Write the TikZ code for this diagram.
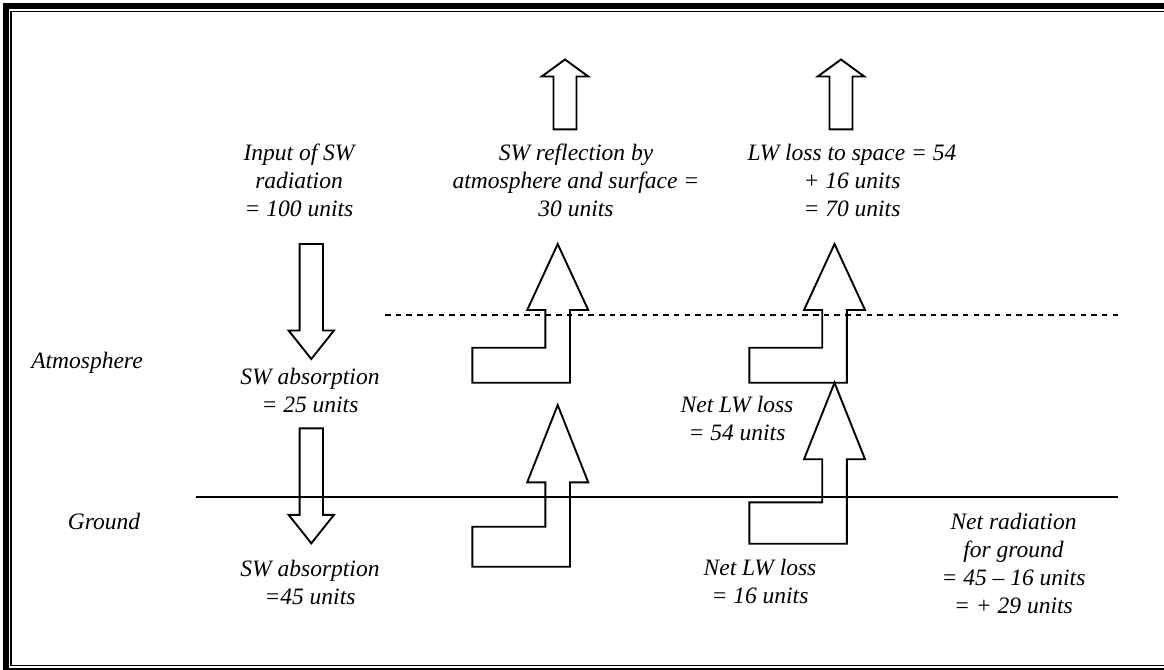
\documentclass[tikz,border=0pt]{standalone}
\usepackage{fontspec}
\setmainfont{Liberation Serif}

\tikzset{
  blockarrow/.style={draw=black, line width=1.9pt, line join=miter},
  lbl/.style={align=center, anchor=base, inner sep=0pt,
    font=\fontsize{23.5}{28}\selectfont\itshape},
}

\begin{document}
\begin{tikzpicture}[x=1pt,y=-1pt]

  % page size, frame runs off the right and bottom edges
  \useasboundingbox (0,0) rectangle (1164,669);
  \clip (0,0) rectangle (1164,669);

  % double frame
  \draw [line width=6pt] (6,6) rectangle (1180,670.6);
  \draw [line width=1.3pt] (11,11.5) rectangle (1172,665.5);

  % down arrows: SW input and SW to ground
  \foreach \cx/\ytop in {311.3/244, 311.3/428.3} {
    \draw [blockarrow] (\cx-11.7,\ytop) -- (\cx+11.7,\ytop) -- (\cx+11.7,\ytop+86.5)
      -- (\cx+22.7,\ytop+86.5) -- (\cx,\ytop+115) -- (\cx-22.7,\ytop+86.5)
      -- (\cx-11.7,\ytop+86.5) -- cycle;
  }

  % small up arrows to space
  \foreach \cx in {565, 841} {
    \draw [blockarrow] (\cx-11.5,129.3) -- (\cx+11.5,129.3) -- (\cx+11.5,76.5)
      -- (\cx+23.3,76.5) -- (\cx,59.5) -- (\cx-23.3,76.5) -- (\cx-11.5,76.5) -- cycle;
  }

  % bent up arrows: centre x / tip / head base / inner corner / bottom / left end
  \foreach \cx/\tip/\hb/\inn/\bot/\lx in {557.7/244/310/347.7/382.7/472.3,
      557.7/405/482.3/526.7/566.7/472.3,
      834.5/244/310/347.7/382.7/749.3,
      834.5/382.7/459.2/502.3/543.7/749.3} {
    \draw [blockarrow] (\cx,\tip) -- (\cx+30.5,\hb) -- (\cx+12.3,\hb) -- (\cx+12.3,\bot)
      -- (\lx,\bot) -- (\lx,\inn) -- (\cx-12.3,\inn) -- (\cx-12.3,\hb)
      -- (\cx-30.5,\hb) -- cycle;
  }

  % top of atmosphere and ground surface
  \coordinate (toaL) at (385,315);
  \coordinate (toaR) at (1123,315);
  \draw [dash pattern=on 5.5pt off 5.2pt, line width=1.2pt] (toaL) -- (toaR);
  \coordinate (sfcL) at (196,497.3);
  \coordinate (sfcR) at (1118,497.3);
  \draw [line width=1.8pt] (sfcL) -- (sfcR);

  % labels (base = baseline of the last line)
  \node [lbl] (swin) at (299,216.5) {Input of SW\\radiation\\= 100 units};
  \node [lbl] (swrefl) at (576,216.5) {SW reflection by\\atmosphere and surface =\\30 units};
  \node [lbl] (lwspace) at (852,216.5) {LW loss to space = 54\\+ 16 units\\= 70 units};
  \node [lbl] (atmos) at (87,368.3) {Atmosphere};
  \node [lbl] (swatm) at (310,412.5) {SW absorption\\= 25 units};
  \node [lbl] (lwatm) at (737,440.5) {Net LW loss\\= 54 units};
  \node [lbl] (ground) at (104,529.3) {Ground};
  \node [lbl] (netrad) at (1013.5,613.5) {Net radiation\\for ground\\= 45 – 16 units\\= + 29 units};
  \node [lbl] (swgnd) at (310,604.5) {SW absorption\\=45 units};
  \node [lbl] (lwgnd) at (760,603) {Net LW loss\\= 16 units};

\end{tikzpicture}
\end{document}
